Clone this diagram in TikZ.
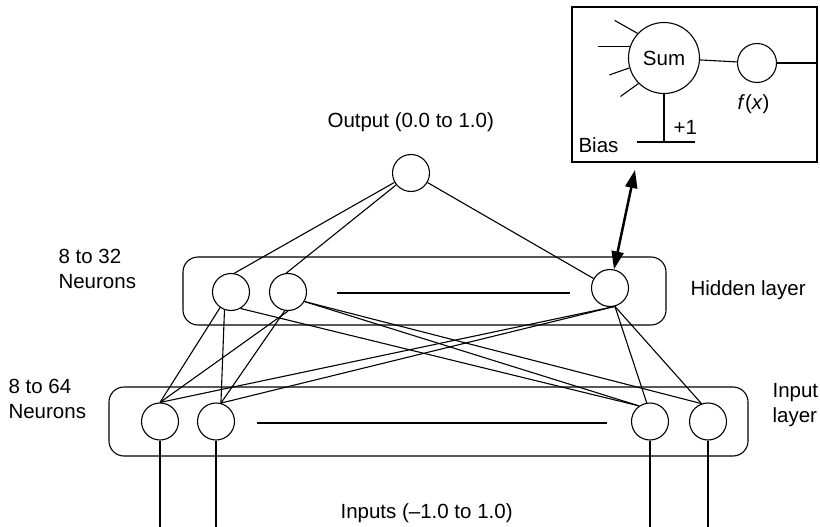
\documentclass[tikz,border=0pt]{standalone}
\usepackage{fontspec}
\setmainfont{Liberation Sans}
\usepackage{tikz}
\usetikzlibrary{arrows.meta,calc}

\begin{document}
\begin{tikzpicture}[x=1pt,y=-1pt,line width=1.1pt,font=\fontsize{20.5}{25}\selectfont,
  neuron/.style={circle,draw,minimum size=37pt,inner sep=0pt},
  layerbox/.style={draw,rounded corners=15pt},
  lbl/.style={anchor=base west,inner sep=0pt,align=left}]
  \useasboundingbox (0,0) rectangle (820,527);
  \coordinate (bottom) at (0,527);
  \draw[layerbox] (183,257) rectangle (666,325);
  \draw[layerbox] (109,387) rectangle (748,456);
  \draw (337,293) -- (570,293);
  \draw (257,423) -- (607,423);
  \node[neuron] (o) at (411,173) {};
  \node[neuron] (h1) at (231,292) {};
  \node[neuron] (h2) at (288,292) {};
  \node[neuron] (h3) at (610,288) {};
  \node[neuron] (i1) at (160,421.5) {};
  \node[neuron] (i2) at (216,421.5) {};
  \node[neuron] (i3) at (650,421.5) {};
  \node[neuron] (i4) at (708,421.5) {};
  \draw (o) -- (h1.80);
  \draw (o) -- (h2.95);
  \draw (o) -- (h3.150);
  \draw (h1.-125) -- (i1.north);
  \draw (h1.-110) -- (i2.75);
  \draw (h1.-60) -- (i3.125);
  \draw (h2.south) -- (i1.north);
  \draw (h2.-100) -- (i2.75);
  \draw (h2.-30) -- (i3.125);
  \draw (h2.-30) -- (i4.110);
  \draw (h3.-75) -- (i1.north);
  \draw (h3.-75) -- (i2.75);
  \draw (h3.-75) -- (i3.100);
  \draw (h3.-75) -- (i4.110);
  \draw (i1) -- (i1 |- bottom);
  \draw (i2) -- (i2 |- bottom);
  \draw (i3) -- (i3 |- bottom);
  \draw (i4) -- (i4 |- bottom);
  % single neuron detail
  \node[draw,minimum width=245pt,minimum height=155pt,inner sep=0pt] (cell) at (694.5,84.5) {};
  \node[circle,draw,minimum size=71pt,inner sep=0pt] (sum) at (664,58) {Sum};
  \node[neuron,minimum size=39pt] (fx) at (757,63) {};
  \draw (sum) -- (fx);
  \draw (fx) -- (fx -| cell.east);
  \draw (sum.137) -- ++(-23,-13);
  \draw (sum.162) -- ++(-32,0);
  \draw (sum.196) -- ++(-20,7);
  \draw (sum.225) -- ++(-18,13);
  \coordinate (biasline) at (664,142);
  \draw (sum) -- (biasline);
  \draw ([xshift=-27pt]biasline) -- ([xshift=31pt]biasline);
  \coordinate (link) at (635,170);
  \draw[{Triangle[length=18pt,width=12pt]}-{Triangle[length=18pt,width=12pt]},line width=2.5pt] (link) -- (h3);
  \node[lbl] (biaslbl) at (578,152) {Bias};
  \node[lbl] (onelbl) at (673,135) {+1};
  \node[lbl] (fxlbl) at (737,110) {\textit{f}(\textit{x})};
  \node[lbl] (outlbl) at (327,128) {Output (0.0 to 1.0)};
  \node[lbl] (inlbl) at (340,518) {Inputs (--1.0 to 1.0)};
  \node[lbl] (hidlbl) at (690,295) {Hidden layer};
  \node[lbl] (inplbl) at (772,422) {Input\\layer};
  \node[lbl] (hidnum) at (58,288) {8 to 32\\Neurons};
  \node[lbl] (inpnum) at (8,418) {8 to 64\\Neurons};
\end{tikzpicture}
\end{document}
